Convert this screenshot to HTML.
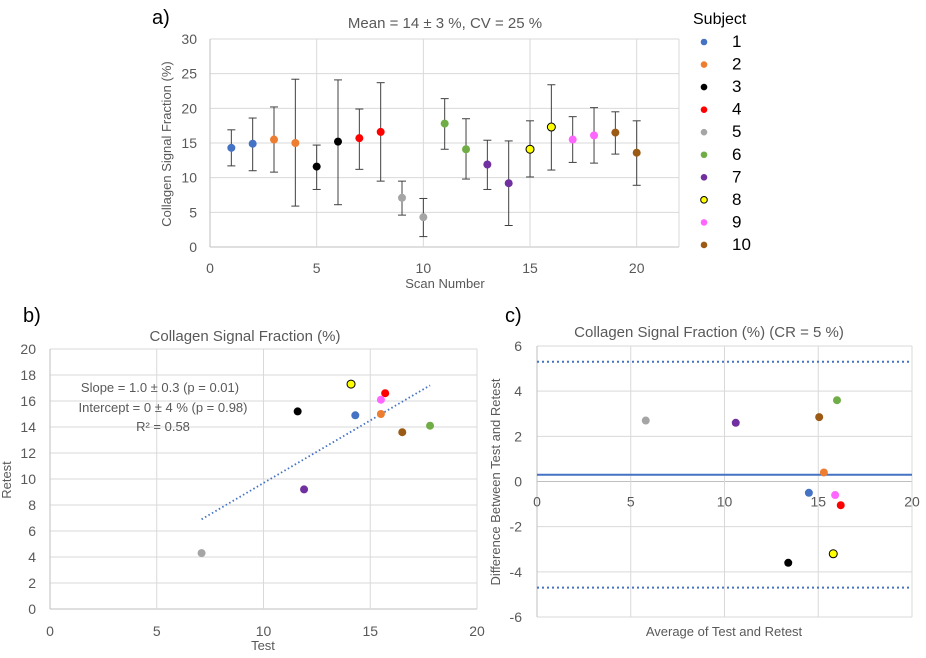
<!DOCTYPE html>
<html><head><meta charset="utf-8"><style>
body{margin:0;background:#fff;}
svg{display:block;font-family:"Liberation Sans",sans-serif;}
</style></head><body>
<svg id="s" width="926" height="658" viewBox="0 0 926 658"></svg>
<script>
const colors=["#4472c4","#ed7d31","#000000","#ff0000","#a5a5a5","#70ad47","#7030a0","#ffff00","#ff66ff","#9c5b14"];
const subjects=[1,2,3,4,5,6,7,8,9,10];
const scans=[1,2,3,4,5,6,7,8,9,10,11,12,13,14,15,16,17,18,19,20];
const csf=[14.3,14.9,15.5,15.0,11.6,15.2,15.7,16.6,7.1,4.3,17.8,14.1,11.9,9.2,14.1,17.3,15.5,16.1,16.5,13.6];
const errLow=[11.7,11.0,10.8,5.9,8.3,6.1,11.2,9.5,4.6,1.5,14.1,9.8,8.3,3.1,10.1,11.1,12.2,12.1,13.4,8.9];
const errHigh=[16.9,18.6,20.2,24.2,14.7,24.1,19.9,23.7,9.5,7.0,21.4,18.5,15.4,15.3,18.2,23.4,18.8,20.1,19.5,18.2];
const testVals=[14.3,15.5,11.6,15.7,7.1,17.8,11.9,14.1,15.5,16.5];
const retestVals=[14.9,15.0,15.2,16.6,4.3,14.1,9.2,17.3,16.1,13.6];
const trendX=[7.1,17.8];
const trendY=[6.9,17.2];
const avgVals=[14.5,15.3,13.4,16.2,5.8,16.0,10.6,15.8,15.9,15.05];
const diffVals=[-0.5,0.4,-3.6,-1.05,2.7,3.6,2.6,-3.2,-0.6,2.85];
const meanDiff=0.3, upperLoA=5.3, lowerLoA=-4.7;
const aTicksY=[0,5,10,15,20,25,30], aTicksX=[0,5,10,15,20];
const bTicksY=[0,2,4,6,8,10,12,14,16,18,20], bTicksX=[0,5,10,15,20];
const cTicksY=[-6,-4,-2,0,2,4,6], cTicksX=[0,5,10,15,20];

const S=document.getElementById('s');const NS="http://www.w3.org/2000/svg";
function el(t,a,txt){const e=document.createElementNS(NS,t);for(const k in a)e.setAttribute(k,a[k]);if(txt!==undefined)e.textContent=txt;S.appendChild(e);return e;}
function lin(d0,d1,r0,r1){return v=>r0+(v-d0)/(d1-d0)*(r1-r0);}
const G="#595959", GR="#d9d9d9";

// Panel a
let ax=lin(0,20,210,636.7), ay=lin(0,30,247,39);
let e=el('text',{x:152,y:24,'font-size':20,fill:'#000'},'a)');

e=el('text',{x:445,y:28,'font-size':15,fill:G,'text-anchor':'middle'},'Mean = 14 ± 3 %, CV = 25 %');

aTicksY.forEach(t=>{e=el('line',{x1:210,x2:679,y1:ay(t),y2:ay(t),stroke:t==0?'#bfbfbf':GR,'stroke-width':1});

e=el('text',{x:197,y:ay(t)+5,'font-size':14,fill:G,'text-anchor':'end'},t);
});
aTicksX.forEach(t=>{e=el('line',{x1:ax(t),x2:ax(t),y1:39,y2:247,stroke:t==0?'#bfbfbf':GR});

e=el('text',{x:ax(t),y:273,'font-size':14,fill:G,'text-anchor':'middle'},t);
});
e=el('line',{x1:679,x2:679,y1:39,y2:247,stroke:GR});
e=el('text',{x:445,y:288,'font-size':13,fill:G,'text-anchor':'middle'},'Scan Number');

e=el('text',{x:0,y:0,'font-size':13,fill:G,'text-anchor':'middle',transform:'translate(171,144) rotate(-90)'},'Collagen Signal Fraction (%)');

scans.forEach((s,i)=>{const x=ax(s);
e=el('line',{x1:x,x2:x,y1:ay(errLow[i]),y2:ay(errHigh[i]),stroke:'#404040'});
e=el('line',{x1:x-4,x2:x+4,y1:ay(errLow[i]),y2:ay(errLow[i]),stroke:'#404040'});
e=el('line',{x1:x-4,x2:x+4,y1:ay(errHigh[i]),y2:ay(errHigh[i]),stroke:'#404040'});
const c=colors[Math.floor(i/2)];
e=el('circle',{cx:x,cy:ay(csf[i]),r:4,fill:c,stroke:c=="#ffff00"?'#000':'none','stroke-width':1});
});
// legend
e=el('text',{x:693,y:24,'font-size':16,fill:'#000'},'Subject');
subjects.forEach((s,i)=>{const y=42+i*22.55;
e=el('circle',{cx:704,cy:y,r:3.3,fill:colors[i],stroke:colors[i]=="#ffff00"?'#000':'none'});
e=el('text',{x:732,y:y+5,'font-size':17,fill:'#000'},s);});

// Panel b
let bx=lin(0,20,50,477), by=lin(0,20,609,349);
e=el('text',{x:23,y:322,'font-size':20,fill:'#000'},'b)');
e=el('text',{x:245,y:341,'font-size':15,fill:G,'text-anchor':'middle'},'Collagen Signal Fraction (%)');
bTicksY.forEach(t=>{e=el('line',{x1:50,x2:477,y1:by(t),y2:by(t),stroke:t==0?'#bfbfbf':GR});
e=el('text',{x:36,y:by(t)+5,'font-size':14,fill:G,'text-anchor':'end'},t);});
bTicksX.forEach(t=>{e=el('line',{x1:bx(t),x2:bx(t),y1:349,y2:609,stroke:t==0?'#bfbfbf':GR});
e=el('text',{x:bx(t),y:636,'font-size':14,fill:G,'text-anchor':'middle'},t);});
e=el('text',{x:263,y:650,'font-size':13,fill:G,'text-anchor':'middle'},'Test');
e=el('text',{x:0,y:0,'font-size':13,fill:G,'text-anchor':'middle',transform:'translate(11,480) rotate(-90)'},'Retest');
e=el('line',{x1:bx(trendX[0]),y1:by(trendY[0]),x2:bx(trendX[1]),y2:by(trendY[1]),stroke:'#4472c4','stroke-width':1.8,'stroke-dasharray':'1.5 2.5'});
e=el('text',{x:160,y:392,'font-size':13,fill:G,'text-anchor':'middle'},'Slope = 1.0 ± 0.3 (p = 0.01)');
e=el('text',{x:163,y:412,'font-size':13,fill:G,'text-anchor':'middle'},'Intercept = 0 ± 4 % (p = 0.98)');
e=el('text',{x:163,y:431,'font-size':13,fill:G,'text-anchor':'middle'},'R² = 0.58');
testVals.forEach((t,i)=>{e=el('circle',{cx:bx(t),cy:by(retestVals[i]),r:4,fill:colors[i],stroke:colors[i]=="#ffff00"?'#000':'none'});});

// Panel c
let cx=lin(0,20,537,912), cy=lin(-6,6,617,346);
e=el('text',{x:505,y:322,'font-size':20,fill:'#000'},'c)');
e=el('text',{x:709,y:337,'font-size':15,fill:G,'text-anchor':'middle'},'Collagen Signal Fraction (%) (CR = 5 %)');
cTicksY.forEach(t=>{e=el('line',{x1:537,x2:912,y1:cy(t),y2:cy(t),stroke:t==0?'#bfbfbf':GR});
e=el('text',{x:522,y:cy(t)+5,'font-size':14,fill:G,'text-anchor':'end'},t);});
cTicksX.forEach(t=>{e=el('line',{x1:cx(t),x2:cx(t),y1:346,y2:617,stroke:t==0?'#bfbfbf':GR});
e=el('text',{x:cx(t),y:cy(0)+25,'font-size':14,fill:G,'text-anchor':'middle'},t);});
e=el('text',{x:724,y:636,'font-size':13,fill:G,'text-anchor':'middle'},'Average of Test and Retest');
e=el('text',{x:0,y:0,'font-size':13,fill:G,'text-anchor':'middle',transform:'translate(500,482) rotate(-90)'},'Difference Between Test and Retest');
e=el('line',{x1:537,x2:912,y1:cy(meanDiff),y2:cy(meanDiff),stroke:'#4472c4','stroke-width':2});
e=el('line',{x1:537,x2:912,y1:cy(upperLoA),y2:cy(upperLoA),stroke:'#4472c4','stroke-width':2,'stroke-dasharray':'2 3'});
e=el('line',{x1:537,x2:912,y1:cy(lowerLoA),y2:cy(lowerLoA),stroke:'#4472c4','stroke-width':2,'stroke-dasharray':'2 3'});
avgVals.forEach((a,i)=>{e=el('circle',{cx:cx(a),cy:cy(diffVals[i]),r:4,fill:colors[i],stroke:colors[i]=="#ffff00"?'#000':'none'});});
</script>
</body></html>
